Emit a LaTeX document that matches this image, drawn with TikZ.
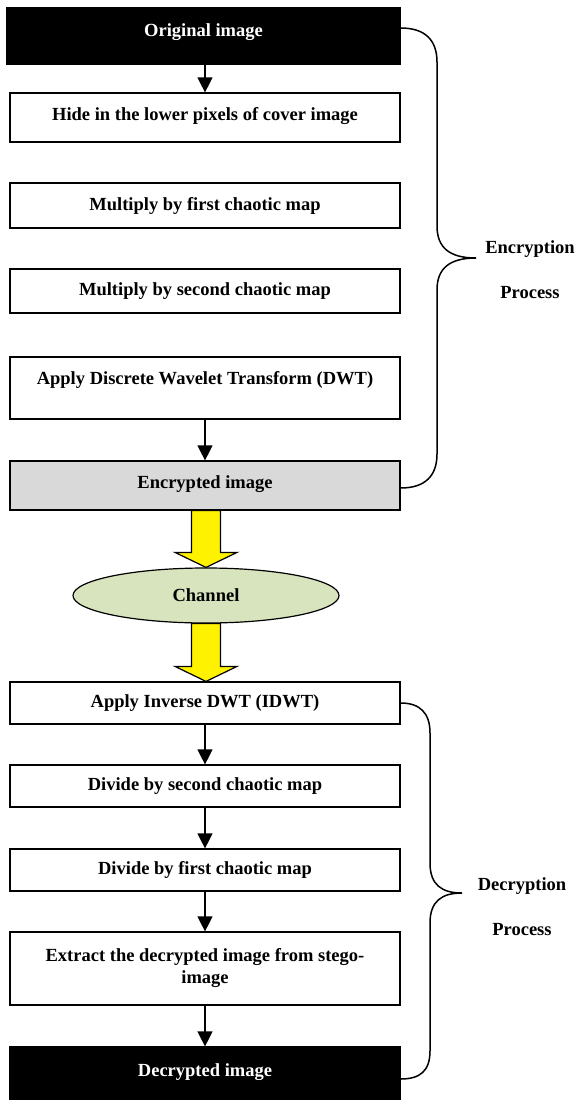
\documentclass[tikz,border=0pt]{standalone}
\usepackage{fontspec}
\setmainfont{Liberation Serif}
\usetikzlibrary{arrows.meta,shapes.geometric,calc}
\definecolor{chanfill}{RGB}{215,228,189}
\definecolor{encfill}{RGB}{217,217,217}
\begin{document}
\begin{tikzpicture}[x=1pt,y=-1pt,
  every node/.style={font=\fontsize{18.5}{22}\selectfont\bfseries},
  box/.style={draw=black, line width=1.2pt, rectangle, minimum width=390pt, inner sep=2pt, align=center},
  flow/.style={line width=1.2pt, -{Triangle[width=15pt,length=15pt]}},
  brace/.style={line width=1.5pt},
  bigarrow/.style={draw=black, line width=1.2pt, fill=yellow, line join=miter}]
\useasboundingbox (0,0) rectangle (575,1100);
% encryption boxes
\node[box, fill=black, text=white, minimum width=393pt, minimum height=56pt, text depth=12pt] (orig) at (203.5,36) {Original image};
\node[box, minimum height=49pt, text depth=7pt] (hide) at (205,117.5) {Hide in the lower pixels of cover image};
\node[box, minimum height=45pt] (mult1) at (205,205.5) {Multiply by first chaotic map};
\node[box, minimum height=44pt] (mult2) at (205,291) {Multiply by second chaotic map};
\node[box, minimum height=62pt, text depth=20pt] (dwt) at (205,388) {Apply Discrete Wavelet Transform (DWT)};
\node[box, fill=encfill, minimum height=49pt, text depth=7pt] (enc) at (205,485.5) {Encrypted image};
% channel
\node[ellipse, draw=black, line width=1.2pt, fill=chanfill, minimum width=266pt, minimum height=55pt, inner sep=0pt] (channel) at (206,595.5) {Channel};
% decryption boxes
\node[box, minimum height=42pt] (inv) at (205,703) {Apply Inverse DWT (IDWT)};
\node[box, minimum height=42pt] (div2) at (205,786) {Divide by second chaotic map};
\node[box, minimum height=42pt] (div1) at (205,870) {Divide by first chaotic map};
\node[box, minimum height=73pt] (extract) at (205,968.5) {Extract the decrypted image from stego-\\image};
\node[box, fill=black, text=white, minimum height=53pt, text depth=7pt] (dec) at (205,1073.5) {Decrypted image};
% flow arrows
\draw[flow] (hide.north |- orig.south) -- (hide.north);
\draw[flow] (dwt.south) -- (enc.north);
\draw[flow] (inv.south) -- (div2.north);
\draw[flow] (div2.south) -- (div1.north);
\draw[flow] (div1.south) -- (extract.north);
\draw[flow] (extract.south) -- (dec.north);
% yellow arrows
\draw[bigarrow] ($(enc.south -| channel.north)+(-14.5,0)$) -- ($(channel.north)+(-14.5,-15)$) -- ($(channel.north)+(-31,-15)$) -- (channel.north) -- ($(channel.north)+(31,-15)$) -- ($(channel.north)+(14.5,-15)$) -- ($(enc.south -| channel.north)+(14.5,0)$) -- cycle;
\draw[bigarrow] ($(channel.south)+(-14.5,0)$) -- ($(inv.north -| channel.south)+(-14.5,-15)$) -- ($(inv.north -| channel.south)+(-31,-15)$) -- (inv.north -| channel.south) -- ($(inv.north -| channel.south)+(31,-15)$) -- ($(inv.north -| channel.south)+(14.5,-15)$) -- ($(channel.south)+(14.5,0)$) -- cycle;
% braces
\draw[brace] ($(orig.east)+(0,-8)$) .. controls (425,28) and (437,40) .. (437,62) -- (437,226) .. controls (437,248) and (450,258) .. (476,258) coordinate (tip1) .. controls (450,258) and (437,268) .. (437,290) -- (437,454) .. controls (437,476) and (425,488) .. ($(enc.east)+(0,2.5)$);
\draw[brace] (inv.east) .. controls (420,703) and (430,713) .. (430,733) -- (430,863) .. controls (430,885) and (442,893) .. (462,893) coordinate (tip2) .. controls (442,893) and (430,901) .. (430,923) -- (430,1051) .. controls (430,1071) and (420,1079) .. ($(dec.east)+(0,5.5)$);
% brace labels
\node (enclbl1) at (530,249) {Encryption};
\node (enclbl2) at (530,293) {Process};
\node (declbl1) at (522,886) {Decryption};
\node (declbl2) at (522,930) {Process};
\end{tikzpicture}
\end{document}
